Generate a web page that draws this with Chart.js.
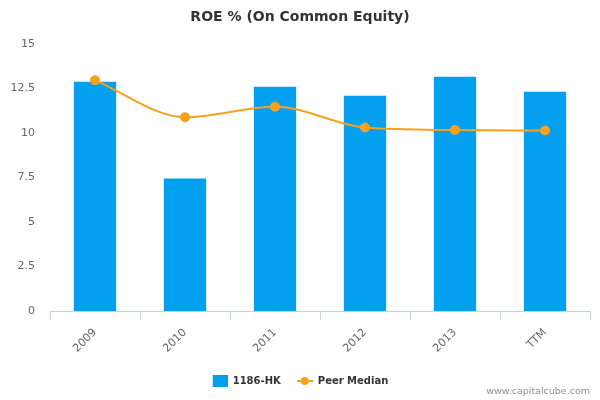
<!DOCTYPE html>
<html>
<head>
<meta charset="utf-8">
<script src="https://cdn.jsdelivr.net/npm/chart.js@4"></script>
<style>
  html, body { margin: 0; padding: 0; background: #fff; }
  #wrap { width: 600px; height: 400px; position: relative; }
</style>
</head>
<body>
<div id="wrap"><canvas id="chart"></canvas></div>
<script>
// ROE % chart, bars = company, line = peer median
const categories = ['2009', '2010', '2011', '2012', '2013', 'TTM'];
const companyRoe = [12.87, 7.44, 12.59, 12.09, 13.15, 12.31];
const peerMedian = [12.95, 10.88, 11.47, 10.30, 10.16, 10.13];
const yTicks = [0, 2.5, 5, 7.5, 10, 12.5, 15];

const BLUE = '#03a0ef';
const ORANGE = '#f9a11b';
const FONT = '"DejaVu Sans", sans-serif';

function legendIcon(kind) {
  const c = document.createElement('canvas');
  c.width = 16; c.height = 12;
  const g = c.getContext('2d');
  if (kind === 'bar') {
    g.fillStyle = BLUE;
    g.fillRect(1, 0, 15, 12);
  } else {
    g.strokeStyle = ORANGE;
    g.lineWidth = 2;
    g.beginPath(); g.moveTo(0, 6); g.lineTo(16, 6); g.stroke();
    g.fillStyle = ORANGE;
    g.beginPath(); g.arc(8, 6, 4, 0, Math.PI * 2); g.fill();
  }
  return c;
}

const watermark = {
  id: 'watermark',
  afterDraw(chart) {
    const ctx = chart.ctx;
    ctx.save();
    ctx.font = '9.5px ' + FONT;
    ctx.fillStyle = '#909090';
    ctx.textAlign = 'right';
    ctx.textBaseline = 'middle';
    ctx.fillText('www.capitalcube.com', 590, 392);
    ctx.restore();
  },
};

new Chart(document.getElementById('chart'), {
  type: 'bar',
  data: {
    labels: categories,
    datasets: [
      { label: '1186-HK', data: companyRoe, backgroundColor: BLUE, barPercentage: 0.47, categoryPercentage: 1, order: 2 },
      {
        label: 'Peer Median', data: peerMedian, type: 'line',
        borderColor: ORANGE, backgroundColor: ORANGE, borderWidth: 2,
        cubicInterpolationMode: 'monotone', pointRadius: 4, pointHoverRadius: 4, fill: false, order: 1,
      },
    ],
  },
  options: {
    responsive: true, maintainAspectRatio: false, animation: false,
    layout: { padding: { left: 10, right: 10, top: 0, bottom: 4 } },
    plugins: {
      title: {
        display: true, text: 'ROE % (On Common Equity)', color: '#333',
        font: { family: FONT, size: 14, weight: 'bold' },
        padding: { top: 9, bottom: 18 },
      },
      legend: {
        position: 'bottom',
        labels: {
          color: '#333', font: { family: FONT, size: 10, weight: 'bold' },
          usePointStyle: true, pointStyleWidth: 16, padding: 16,
          generateLabels: chart => chart.data.datasets.map((ds, i) => ({
            text: ds.label,
            pointStyle: legendIcon(i === 0 ? 'bar' : 'line'),
            fontColor: '#333', datasetIndex: i, hidden: false,
            lineWidth: 0, strokeStyle: 'transparent', fillStyle: 'transparent',
          })),
        },
      },
      tooltip: { enabled: false },
    },
    scales: {
      x: {
        grid: { offset: true, drawOnChartArea: false, drawTicks: true, tickLength: 9, color: '#c4d2e0' },
        border: { color: '#c4d2e0' },
        ticks: { color: '#666', font: { family: FONT, size: 11 }, minRotation: 45, maxRotation: 45, padding: 6 },
        afterFit: s => { s.height = 49; },
      },
      y: {
        min: 0, max: 15,
        afterBuildTicks: s => { s.ticks = yTicks.map(v => ({ value: v })); },
        grid: { display: false, drawTicks: false },
        border: { display: false },
        ticks: { color: '#666', font: { family: FONT, size: 11 }, padding: 15 },
        afterFit: s => { s.width = 40; },
      },
    },
  },
  plugins: [watermark],
});
</script>
</body>
</html>
